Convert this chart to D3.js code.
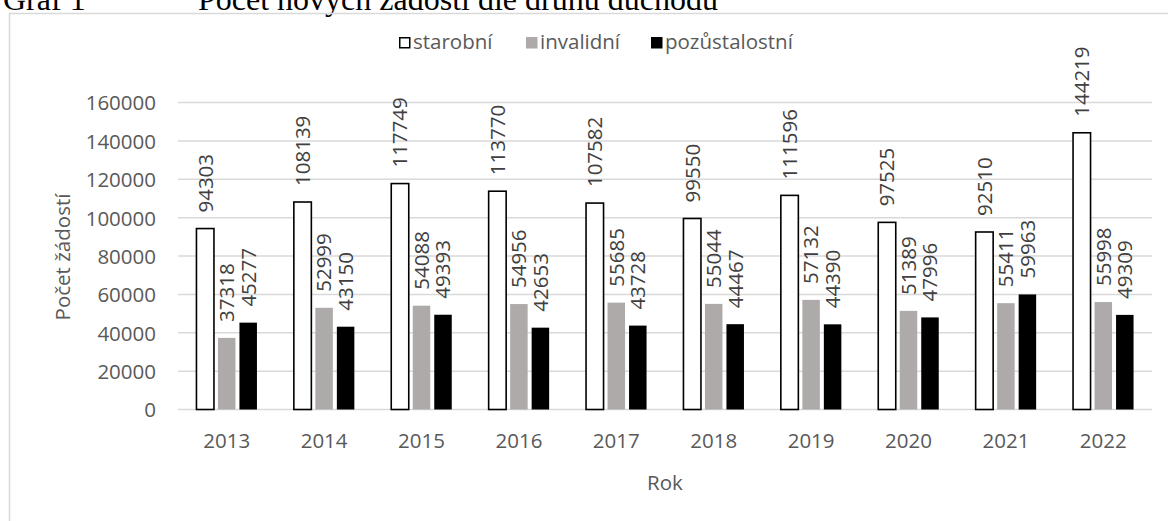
<!DOCTYPE html>
<html>
<head>
<meta charset="utf-8">
<script src="https://cdn.jsdelivr.net/npm/d3@7/dist/d3.min.js"></script>
<style>
  html, body { margin: 0; padding: 0; background: #fff; }
  svg { display: block; }
</style>
</head>
<body>
<svg id="chart" width="1168" height="521"></svg>
<script>
// Počet nových žádostí podle druhu důchodu, 2013–2022
const years = ["2013", "2014", "2015", "2016", "2017", "2018", "2019", "2020", "2021", "2022"];
const starobni = [94303, 108139, 117749, 113770, 107582, 99550, 111596, 97525, 92510, 144219];
const invalidni = [37318, 52999, 54088, 54956, 55685, 55044, 57132, 51389, 55411, 55998];
const pozustalostni = [45277, 43150, 49393, 42653, 43728, 44467, 44390, 47996, 59963, 49309];
const seriesNames = ["starobní", "invalidní", "pozůstalostní"];
const yTicks = [0, 20000, 40000, 60000, 80000, 100000, 120000, 140000, 160000];

const series = [
  { name: seriesNames[0], values: starobni, fill: "#ffffff", stroke: "#000000" },
  { name: seriesNames[1], values: invalidni, fill: "#aeaaaa", stroke: "none" },
  { name: seriesNames[2], values: pozustalostni, fill: "#000000", stroke: "none" }
];

const FONT = "'Open Sans', sans-serif";
const svg = d3.select("#chart");

// Heading above the chart frame
svg.append("text").attr("x", 3).attr("y", 9.5)
  .attr("font-family", "'Liberation Serif', 'Times New Roman', serif")
  .attr("font-size", 32).attr("fill", "#000").text("Graf 1");
svg.append("text").attr("x", 198).attr("y", 9.5)
  .attr("font-family", "'Liberation Serif', 'Times New Roman', serif")
  .attr("font-size", 32).attr("fill", "#000").text("Počet nových žádostí dle druhu důchodu");

// Chart frame (top and left edges)
svg.append("path")
  .attr("d", "M9.5,521 L9.5,13.5 L1168,13.5")
  .attr("fill", "none").attr("stroke", "#d9d9d9").attr("stroke-width", 1.5);

const plot = { left: 178, right: 1152, top: 102.5, bottom: 409.5 };

const x = d3.scaleBand().domain(years).range([plot.left, plot.right]).padding(0);
const y = d3.scaleLinear().domain([0, 160000]).range([plot.bottom, plot.top]);

const barW = 17.5;
const step = 21.5;

// Gridlines
svg.append("g")
  .selectAll("line")
  .data(yTicks)
  .join("line")
  .attr("x1", plot.left).attr("x2", plot.right)
  .attr("y1", d => y(d)).attr("y2", d => y(d))
  .attr("stroke", "#d9d9d9").attr("stroke-width", 1.5);

// Y axis tick labels
const yAxis = d3.axisLeft(y).tickValues(yTicks).tickSize(0).tickPadding(0).tickFormat(d3.format("d"));
const gy = svg.append("g").attr("transform", `translate(${plot.left - 22},0)`).call(yAxis);
gy.select(".domain").remove();
gy.selectAll("text")
  .attr("font-family", FONT).attr("font-size", 20.5).attr("fill", "#595959")
  .attr("dy", "0.36em");

// X axis tick labels
const xAxis = d3.axisBottom(x).tickSize(0).tickPadding(0);
const gx = svg.append("g").attr("transform", `translate(0,${plot.bottom})`).call(xAxis);
gx.select(".domain").remove();
gx.selectAll("text")
  .attr("font-family", FONT).attr("font-size", 20.5).attr("fill", "#595959")
  .attr("dy", null).attr("y", 38.5);

// Bars and rotated value labels
series.forEach((s, i) => {
  const off = (i - 1) * step;
  const g = svg.append("g");
  g.selectAll("rect")
    .data(s.values)
    .join("rect")
    .attr("x", (d, j) => x(years[j]) + x.bandwidth() / 2 + off - barW / 2)
    .attr("y", d => y(d))
    .attr("width", barW)
    .attr("height", d => y(0) - y(d))
    .attr("fill", s.fill)
    .attr("stroke", s.stroke)
    .attr("stroke-width", s.stroke === "none" ? 0 : 1.6);
  g.selectAll("text")
    .data(s.values)
    .join("text")
    .attr("transform", (d, j) => {
      const cx = x(years[j]) + x.bandwidth() / 2 + off;
      return `translate(${cx},${y(d) - 16}) rotate(-90)`;
    })
    .attr("dy", "0.36em")
    .attr("text-anchor", "start")
    .attr("font-family", FONT).attr("font-size", 20.5).attr("fill", "#404040")
    .text(d => d);
});

// Axis titles
svg.append("text")
  .attr("transform", `translate(70,257) rotate(-90)`)
  .attr("text-anchor", "middle")
  .attr("font-family", FONT).attr("font-size", 20.5).attr("fill", "#595959")
  .text("Počet žádostí");
svg.append("text")
  .attr("x", (plot.left + plot.right) / 2).attr("y", 490)
  .attr("text-anchor", "middle")
  .attr("font-family", FONT).attr("font-size", 20.5).attr("fill", "#595959")
  .text("Rok");

// Legend
const legendX = [399, 526, 651];
const legend = svg.append("g");
series.forEach((s, i) => {
  legend.append("rect")
    .attr("x", legendX[i] + 0.75).attr("y", 37.75)
    .attr("width", 10).attr("height", 10)
    .attr("fill", s.fill)
    .attr("stroke", s.stroke === "none" ? s.fill : "#000")
    .attr("stroke-width", 1.5);
  legend.append("text")
    .attr("x", legendX[i] + 14).attr("y", 48.5)
    .attr("font-family", FONT).attr("font-size", 20.5).attr("fill", "#595959")
    .text(s.name);
});
</script>
</body>
</html>
